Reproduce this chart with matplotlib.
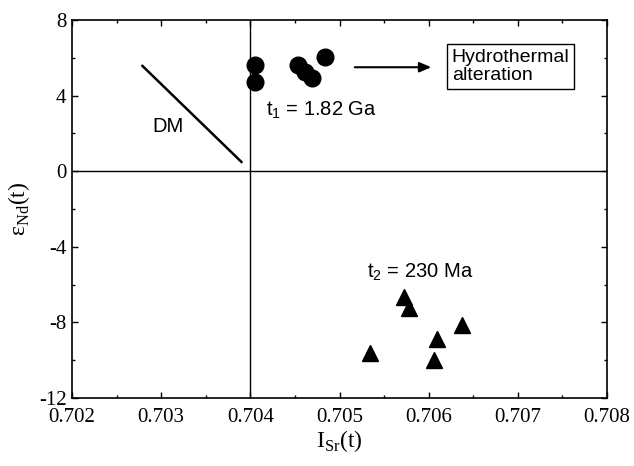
import matplotlib
matplotlib.use("Agg")
import matplotlib.pyplot as plt
from matplotlib.ticker import MultipleLocator

plt.rcParams["axes.unicode_minus"] = False

# Circles (t1 = 1.82 Ga)
isr_t1 = [0.70405, 0.70405, 0.70453, 0.70461, 0.70469, 0.70484]
end_t1 = [5.62, 4.72, 5.62, 5.25, 4.93, 6.04]

# Triangles (t2 = 230 Ma)
isr_t2 = [0.70572, 0.70578, 0.70637, 0.70609, 0.70534, 0.70606]
end_t2 = [-6.66, -7.24, -8.14, -8.88, -9.62, -9.99]

# DM trend line
dm_x = [0.70279, 0.70390]
dm_y = [5.57, 0.49]

serif = "Liberation Serif"
sans = "Liberation Sans"

fig = plt.figure(figsize=(6.34, 4.66), dpi=100)
ax = fig.add_axes([0.1136, 0.1459, 0.8438, 0.8112])

ax.axvline(0.704, color="black", lw=1)
ax.axhline(0, color="black", lw=1)

ax.plot(dm_x, dm_y, color="black", lw=1.8)
ax.plot(isr_t1, end_t1, "o", color="black", ms=12, ls="none")
ax.plot(isr_t2, end_t2, "^", color="black", ms=12, ls="none")

ax.text(0.70308, 2.39, "DM", family=sans, fontsize=14.5, ha="center", va="center")
ax.text(0.70418, 3.24, "t$_\\mathregular{1}$ = 1.82 Ga", family=sans, fontsize=14.5,
        ha="left", va="center")
ax.text(0.70531, -5.33, "t$_\\mathregular{2}$ = 230 Ma", family=sans, fontsize=14.5,
        ha="left", va="center")

ax.annotate("", xy=(0.70606, 5.5), xytext=(0.70514, 5.5),
            arrowprops=dict(arrowstyle="-|>,head_length=0.7,head_width=0.3",
                            color="black", lw=1.5))
ax.text(0.70626, 5.54, "Hydrothermal\nalteration", family=sans, fontsize=14,
        ha="left", va="center", linespacing=1.05,
        bbox=dict(boxstyle="square,pad=0.25", facecolor="white", edgecolor="black", lw=1))

ax.set_xlim(0.702, 0.708)
ax.set_ylim(-12, 8)
ax.xaxis.set_minor_locator(MultipleLocator(0.0005))
ax.yaxis.set_major_locator(MultipleLocator(4))
ax.yaxis.set_minor_locator(MultipleLocator(2))
ax.set_xticks([0.702, 0.703, 0.704, 0.705, 0.706, 0.707, 0.708])
ax.set_xticklabels(["0.702", "0.703", "0.704", "0.705", "0.706", "0.707", "0.708"])
ax.tick_params(which="both", direction="in", top=True, right=True, width=1)
ax.tick_params(which="major", length=4.5, labelsize=15)
ax.tick_params(axis="x", which="major", pad=7)
ax.tick_params(axis="y", which="major", pad=4)
ax.tick_params(which="minor", length=2.5)
for lab in ax.get_xticklabels() + ax.get_yticklabels():
    lab.set_family(serif)
for s in ax.spines.values():
    s.set_linewidth(1.2)

ax.set_xlabel("I$_\\mathregular{Sr}$(t)", family=serif, fontsize=17, labelpad=1)
ax.set_ylabel("ε$_\\mathregular{Nd}$(t)", family=serif, fontsize=17, labelpad=5)

fig.savefig("out.png", dpi=100)
